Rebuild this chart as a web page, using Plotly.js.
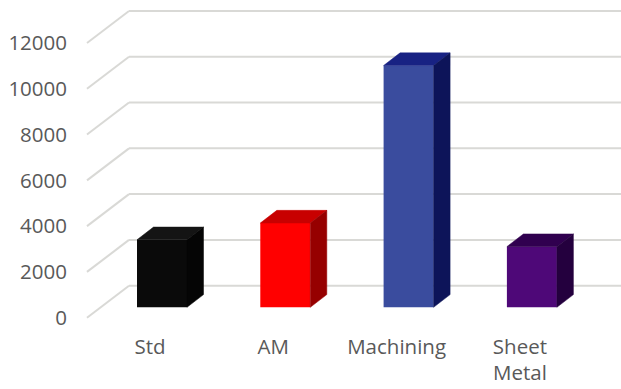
<!DOCTYPE html>
<html>
<head>
<meta charset="utf-8">
<script src="https://cdn.plot.ly/plotly-3.0.1.min.js"></script>
<style>
  html, body { margin: 0; padding: 0; background: #fff; }
  #chart { width: 621px; height: 389px; }
</style>
</head>
<body>
<div id="chart"></div>
<script>
// Process cost comparison
const categories = ["Std", "AM", "Machining", "Sheet Metal"];
const costs = [2950, 3680, 10560, 2650];
const tickValues = [0, 2000, 4000, 6000, 8000, 10000, 12000];

// Face colours per bar: front, top, side
const frontColors = ["#0a0a0a", "#ff0000", "#3a4c9e", "#4e0878"];
const topColors   = ["#141414", "#c80000", "#182283", "#30004f"];
const sideColors  = ["#050505", "#960000", "#0d1459", "#24003e"];

// Pseudo-3D geometry (x in category units, y in value units)
const pxPerCat = 123.3;
const pxPerVal = 0.022892;
const barWidth = 50 / pxPerCat;
const depthX = 16.5 / pxPerCat;
const depthY = 12.7 / pxPerVal;
const wallFrontX = (87 - 162) / pxPerCat;
const wallBackX = (129 - 162) / pxPerCat;
const wallFrontShift = -454;
const wallBackShift = 944;
const plotH = 332;
const yRange = [-(plotH - 307.3) / pxPerVal, 307.3 / pxPerVal];
const xRange = [-162 / pxPerCat, (621 - 162) / pxPerCat];
const labelShift = 12 / pxPerCat;

// Back wall gridlines with their receding diagonals, kept beneath the bars
const gridShapes = [];
tickValues.forEach(t => {
  const line = { color: "#d9d9d6", width: 2 };
  gridShapes.push({
    type: "line", xref: "x", yref: "y", layer: "below",
    x0: wallFrontX, y0: t + wallFrontShift, x1: wallBackX, y1: t + wallBackShift, line
  });
  gridShapes.push({
    type: "line", xref: "x", yref: "y", layer: "below",
    x0: wallBackX, y0: t + wallBackShift, x1: xRange[1], y1: t + wallBackShift, line
  });
});

const traces = [];

// Front faces
traces.push({
  type: "bar",
  x: categories.map((_, i) => i),
  y: costs,
  width: barWidth,
  marker: { color: frontColors, line: { width: 0 } },
  hoverinfo: "skip", showlegend: false
});

// Top and side faces
costs.forEach((v, i) => {
  const l = i - barWidth / 2, r = i + barWidth / 2;
  traces.push({
    type: "scatter", mode: "lines", fill: "toself",
    x: [l, l + depthX, r + depthX, r, l],
    y: [v, v + depthY, v + depthY, v, v],
    fillcolor: topColors[i], line: { color: topColors[i], width: 0.5 },
    hoverinfo: "skip", showlegend: false
  });
  traces.push({
    type: "scatter", mode: "lines", fill: "toself",
    x: [r, r + depthX, r + depthX, r, r],
    y: [0, depthY, v + depthY, v, 0],
    fillcolor: sideColors[i], line: { color: sideColors[i], width: 0.5 },
    hoverinfo: "skip", showlegend: false
  });
});

// Invisible carrier for the label axes
traces.push({
  type: "scatter", mode: "markers", x: [0], y: [0], xaxis: "x2", yaxis: "y2",
  marker: { opacity: 0 }, hoverinfo: "skip", showlegend: false
});

const textFont = { family: "Open Sans, Lato, sans-serif", size: 20.5, color: "#595959" };

const layout = {
  width: 621, height: 389,
  margin: { l: 0, r: 0, t: 0, b: 389 - plotH, pad: 0 },
  paper_bgcolor: "#ffffff", plot_bgcolor: "#ffffff",
  showlegend: false,
  shapes: gridShapes,
  xaxis: {
    range: xRange, showgrid: false, zeroline: false, showline: false,
    showticklabels: false, ticks: "", fixedrange: true
  },
  yaxis: {
    range: yRange, showgrid: false, zeroline: false, showline: false,
    showticklabels: false, ticks: "", fixedrange: true
  },
  xaxis2: {
    overlaying: "x", anchor: "y", side: "bottom",
    range: [xRange[0] + labelShift, xRange[1] + labelShift],
    tickmode: "array",
    tickvals: categories.map((_, i) => i),
    ticktext: categories.map(c => c.replace(" ", "<br>")),
    showgrid: false, zeroline: false, showline: false, ticks: "",
    tickfont: textFont, ticklabelstandoff: 0, fixedrange: true
  },
  yaxis2: {
    overlaying: "y", anchor: "free", side: "left",
    position: 87 / 621,
    range: [yRange[0] - wallFrontShift, yRange[1] - wallFrontShift],
    tickmode: "array", tickvals: tickValues, tickformat: "d",
    showgrid: false, zeroline: false, showline: false, ticks: "",
    tickfont: textFont, ticklabelstandoff: 20, fixedrange: true
  }
};

Plotly.newPlot("chart", traces, layout, { displayModeBar: false, staticPlot: true });
</script>
</body>
</html>
